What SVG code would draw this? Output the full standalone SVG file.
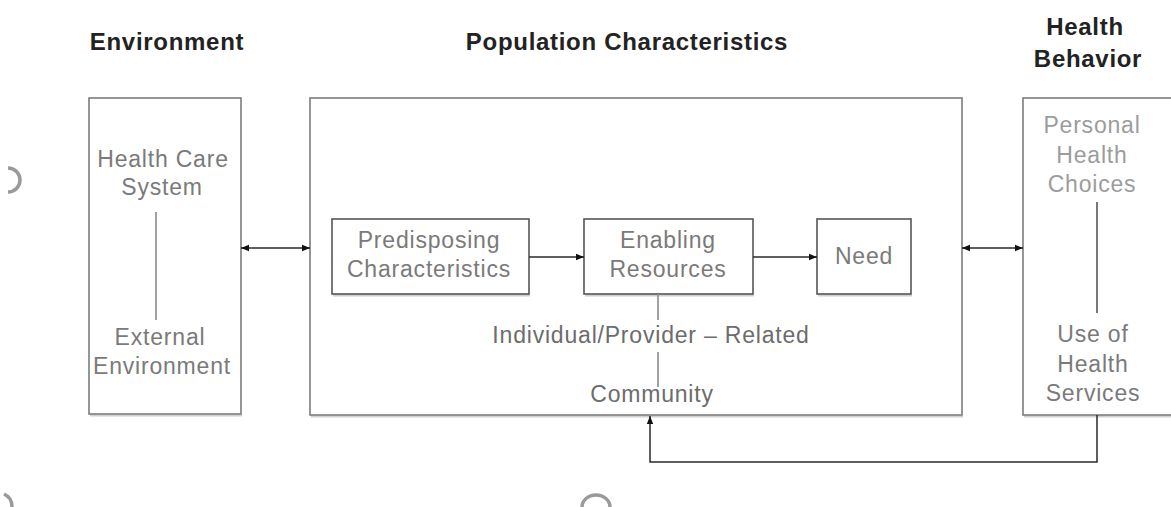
<svg xmlns="http://www.w3.org/2000/svg" width="1171" height="507" viewBox="0 0 1171 507">
<style>
  .title { font-family: "Liberation Sans", Arial, sans-serif; font-size: 24px; font-weight: bold; letter-spacing: 0.7px; fill: #222222; text-anchor: middle; }
  .txt { font-family: "Liberation Sans", Arial, sans-serif; font-size: 23px; letter-spacing: 0.8px; fill: #7a7a7a; text-anchor: middle; }
  .txtd { font-family: "Liberation Sans", Arial, sans-serif; font-size: 23px; letter-spacing: 0.8px; fill: #6c6c6c; text-anchor: middle; }
  .light { fill: #9c9c9c; }
  .outer { fill: #ffffff; stroke: #7c7c7c; stroke-width: 1.6; }
  .inner { fill: #ffffff; stroke: #555555; stroke-width: 1.6; }
  .shadow { fill: none; stroke: #d0d0d0; stroke-width: 2; }
  .sep { stroke: #8a8a8a; stroke-width: 1.6; fill: none; }
  .conn { stroke: #2a2a2a; stroke-width: 1.5; fill: none; }
  .frag { fill: none; stroke: #9a9a9a; stroke-width: 3.5; }
</style>
<defs>
  <marker id="ah" viewBox="0 0 10 10" refX="10" refY="5" markerWidth="8" markerHeight="8" markerUnits="userSpaceOnUse" orient="auto-start-reverse">
    <path d="M0,1 L10,5 L0,9 z" fill="#111111"/>
  </marker>
</defs>
<rect width="1171" height="507" fill="#ffffff"/>

<!-- edge fragments -->
<path class="frag" d="M8,168 A12,12 0 0 1 8,192"/>
<path class="frag" d="M1171,165 A14,14 0 0 0 1171,191" stroke="#c4c4c4"/>
<path class="frag" d="M582,507 A14,12 0 0 1 610,507"/>
<path class="frag" d="M4,494 A14,14 0 0 1 12,507" stroke="#b0b0b0"/>

<!-- titles -->
<text class="title" x="167" y="50">Environment</text>
<text class="title" x="627" y="50">Population Characteristics</text>
<text class="title" x="1085" y="35">Health</text>
<text class="title" x="1088" y="67">Behavior</text>

<g id="environment">
  <line class="shadow" x1="90" y1="415.5" x2="242" y2="415.5"/>
  <rect class="outer" x="89" y="98" width="152" height="316"/>
  <text class="txt" x="163" y="167">Health Care</text>
  <text class="txt" x="162" y="195">System</text>
  <line class="sep" x1="156" y1="212" x2="156" y2="320"/>
  <text class="txt" x="160" y="345">External</text>
  <text class="txt" x="162" y="374">Environment</text>
</g>

<g id="population">
  <line class="shadow" x1="311" y1="416.5" x2="963" y2="416.5"/>
  <rect class="outer" x="310" y="98" width="652" height="317"/>
</g>

<g id="predisposing">
  <line class="shadow" x1="333" y1="295.5" x2="530" y2="295.5"/>
  <rect class="inner" x="332" y="219" width="197" height="75"/>
  <text class="txt" x="429" y="248">Predisposing</text>
  <text class="txt" x="429" y="277">Characteristics</text>
</g>

<g id="enabling">
  <line class="shadow" x1="585" y1="295.5" x2="754" y2="295.5"/>
  <rect class="inner" x="584" y="219" width="169" height="75"/>
  <text class="txt" x="668" y="248">Enabling</text>
  <text class="txt" x="668" y="277">Resources</text>
</g>

<g id="need">
  <line class="shadow" x1="818" y1="295.5" x2="912" y2="295.5"/>
  <rect class="inner" x="817" y="219" width="94" height="75"/>
  <text class="txt" x="864" y="264">Need</text>
</g>

<g id="levels">
  <line class="sep" x1="658" y1="294" x2="658" y2="320"/>
  <text class="txtd" x="651" y="343">Individual/Provider – Related</text>
  <line class="sep" x1="658" y1="352" x2="658" y2="387"/>
  <text class="txtd" x="652" y="402">Community</text>
</g>

<g id="health-behavior">
  <line class="shadow" x1="1024" y1="416.5" x2="1171" y2="416.5"/>
  <rect class="outer" x="1023" y="98" width="150" height="317"/>
  <text class="txt light" x="1092" y="133">Personal</text>
  <text class="txt light" x="1092" y="163">Health</text>
  <text class="txt light" x="1092" y="192">Choices</text>
  <line class="sep" x1="1097" y1="202" x2="1097" y2="313" style="stroke:#555"/>
  <text class="txt" x="1093" y="342">Use of</text>
  <text class="txt" x="1093" y="372">Health</text>
  <text class="txt" x="1093" y="401">Services</text>
</g>

<g id="connectors">
  <line class="conn" x1="241" y1="248" x2="310" y2="248" marker-start="url(#ah)" marker-end="url(#ah)"/>
  <line class="conn" x1="529" y1="257" x2="584" y2="257" marker-end="url(#ah)"/>
  <line class="conn" x1="753" y1="257" x2="817" y2="257" marker-end="url(#ah)"/>
  <line class="conn" x1="962" y1="248" x2="1023" y2="248" marker-start="url(#ah)" marker-end="url(#ah)"/>
  <polyline class="conn" points="1097,415 1097,462 650,462 650,416" marker-end="url(#ah)"/>
</g>
</svg>
